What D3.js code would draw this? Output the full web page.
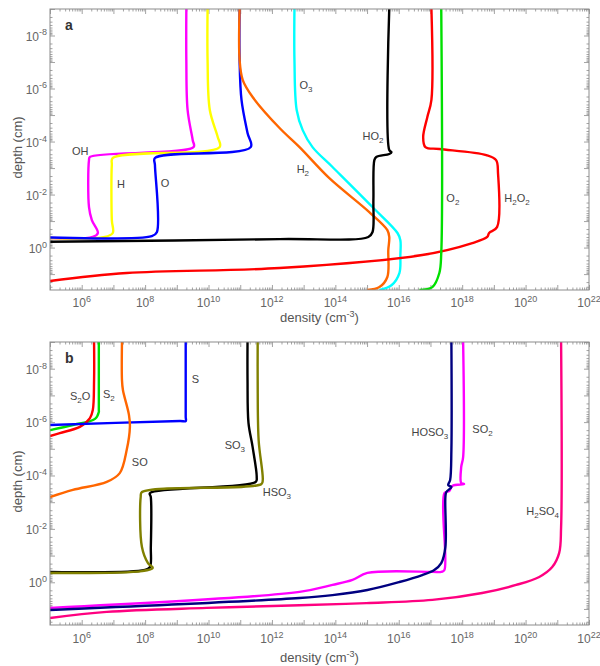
<!DOCTYPE html>
<html>
<head>
<meta charset="utf-8">
<script src="https://cdn.jsdelivr.net/npm/d3@7"></script>
<style>
  body { margin: 0; background: #fff; }
  svg { display: block; }
  text { font-family: "Liberation Sans", Arial, sans-serif; }
</style>
</head>
<body>
<svg id="chart" width="600" height="666"></svg>
<script>
// axis ranges (values, not pixels)
const DENSITY_DOMAIN = [1e5, 1e22];
const DEPTH_DOMAIN = [1e-9, 10 ** 1.6];
const X_LABEL_EXP = [6, 8, 10, 12, 14, 16, 18, 20, 22];
const Y_LABEL_EXP = [-8, -6, -4, -2, 0];

// every point is [log10 density (cm^-3), log10 depth (cm)]
// --- panel a ---
const OH = [[9.30,-9],[9.30,-7.08],[9.34,-5.19],[9.50,-4.06],[9.53,-3.79],[6.26,-3.42],[6.23,-3.30],[6.23,-1.53],[6.32,-1.04],[6.51,-0.55],[6.35,-0.40],[5,-0.36]];
const H = [[9.97,-9],[9.97,-7.08],[10.04,-5.19],[10.29,-4.17],[10.35,-3.79],[6.98,-3.38],[6.95,-3.11],[6.95,-1.04],[6.98,-0.55],[6.73,-0.40],[5,-0.36]];
const O = [[10.98,-9],[10.98,-7.08],[11.04,-5.57],[11.23,-4.32],[11.33,-3.79],[8.31,-3.38],[8.31,-3.11],[8.37,-0.58],[8.21,-0.43],[5,-0.38]];
const H2 = [[10.98,-9],[10.98,-7.08],[11.08,-6.32],[11.39,-5.68],[12.24,-4.51],[12.87,-3.79],[13.81,-2.62],[15.07,-1.34],[15.64,-0.66],[15.70,-0.40],[15.67,0.09],[15.64,1.11],[15.39,1.49],[15.01,1.60]];
const O3 = [[12.71,-9],[12.71,-7.08],[12.78,-5.19],[12.97,-4.43],[13.28,-3.79],[13.91,-3.04],[15.17,-1.53],[15.96,-0.55],[16.05,-0.28],[16.05,0.28],[16.02,0.96],[15.77,1.42],[15.39,1.60]];
const HO2 = [[15.70,-9],[15.70,-3.68],[15.77,-3.60],[15.70,-3.53],[15.29,-3.42],[15.23,-3.30],[15.20,-1.79],[15.17,-0.58],[15.04,-0.40],[12.24,-0.32],[5,-0.22]];
const O2 = [[17.34,-9],[17.34,0.21],[17.28,0.96],[17.06,1.49],[16.65,1.60]];
const H2O2 = [[17.03,-9],[17.03,-5.57],[16.90,-4.92],[16.77,-4.17],[16.84,-3.79],[17.28,-3.72],[18.76,-3.49],[19.07,-3.30],[19.13,-2.81],[19.10,-0.77],[18.85,-0.55],[18.79,-0.40],[18.32,-0.17],[16.74,0.28],[12.24,0.77],[7.42,0.96],[5,1.26]];

// --- panel b ---
const S2O = [[6.39,-9],[6.39,-7.58],[6.35,-6.45],[6.26,-6.15],[5.94,-5.82],[5.31,-5.59],[5,-5.48]];
const S2 = [[6.54,-9],[6.54,-6.45],[6.54,-6.38],[6.42,-6.12],[5.72,-5.89],[5,-5.70]];
const S = [[9.28,-9],[9.28,-6.2],[9.28,-6.04],[9.1,-6.04],[5,-5.89]];
const SO = [[7.27,-9],[7.27,-7.58],[7.30,-7.20],[7.49,-6.27],[7.52,-5.82],[7.42,-4.96],[7.20,-4.09],[6.79,-3.76],[5.72,-3.46],[5,-3.19]];
const SO3 = [[11.23,-9],[11.23,-7.58],[11.26,-5.97],[11.39,-5.07],[11.52,-3.94],[11.49,-3.76],[8.15,-3.34],[8.18,-3.19],[8.18,-1.32],[8.15,-0.57],[7.99,-0.46],[5,-0.39]];
const HSO3 = [[11.55,-9],[11.55,-7.58],[11.58,-5.33],[11.71,-3.83],[11.67,-3.68],[7.90,-3.38],[7.86,-3.19],[7.90,-1.32],[8.09,-0.72],[8.24,-0.54],[7.90,-0.42],[5,-0.35]];
const SO2 = [[18.03,-9],[18.03,-4.69],[17.97,-4.32],[17.97,-3.72],[18.06,-3.68],[17.69,-3.61],[17.59,-3.42],[17.44,-3.34],[17.44,-0.46],[17.34,-0.39],[17.06,-0.39],[15.01,-0.35],[14.54,-0.09],[13.91,0.10],[12.87,0.36],[5,0.96]];
const HOSO3 = [[17.66,-9],[17.66,-4.96],[17.62,-3.83],[17.56,-3.64],[17.66,-3.57],[17.50,-3.38],[17.47,-3.19],[17.47,-1.32],[17.34,-0.72],[17.12,-0.46],[16.74,-0.27],[16.02,-0.01],[15.01,0.29],[13.91,0.48],[12.87,0.59],[5,1.04]];
const H2SO4 = [[21.12,-9],[21.12,-2.07],[21.06,-1.10],[20.84,-0.57],[20.43,-0.20],[19.70,0.10],[18.63,0.40],[17.06,0.66],[14.98,0.78],[12.87,0.86],[9.94,0.96],[6.79,1.11],[5,1.34]];

// label anchors, also [log10 density, log10 depth]
const panels = [
  {
    letter: 'a', top: 9, bottom: 290, tickBase: 307, titleBase: 322,
    series: [
      { name: 'OH', data: OH, color: '#ff00ff', label: [5.69, -3.49] },
      { name: 'H', data: H, color: '#ffff00', label: [7.11, -2.25] },
      { name: 'O', data: O, color: '#0000ff', label: [8.49, -2.28] },
      { name: 'H_2', data: H2, color: '#ff6600', label: [12.78, -2.81] },
      { name: 'O_3', data: O3, color: '#00ffff', label: [12.87, -5.98] },
      { name: 'H_2O_2', data: H2O2, color: '#ff0000', label: [19.33, -1.72] },
      { name: 'O_2', data: O2, color: '#00e000', label: [17.5, -1.72] },
      { name: 'HO_2', data: HO2, color: '#000000', label: [14.86, -4.06] }
    ]
  },
  {
    letter: 'b', top: 342, bottom: 625, tickBase: 643, titleBase: 662,
    series: [
      { name: 'S_2', data: S2, color: '#00e000', label: [6.67, -6.90] },
      { name: 'S_2O', data: S2O, color: '#ff0000', label: [5.63, -6.83] },
      { name: 'S', data: S, color: '#0000ff', label: [9.47, -7.46] },
      { name: 'SO', data: SO, color: '#ff6600', label: [7.58, -4.36] },
      { name: 'SO_3', data: SO3, color: '#000000', label: [10.51, -4.99] },
      { name: 'HSO_3', data: HSO3, color: '#808000', label: [11.71, -3.23] },
      { name: 'H_2SO_4', data: H2SO4, color: '#ff0080', label: [20.02, -2.52] },
      { name: 'SO_2', data: SO2, color: '#ff00ff', label: [18.32, -5.59] },
      { name: 'HOSO_3', data: HOSO3, color: '#000080', label: [16.40, -5.48] }
    ]
  }
];

const left = 50, right = 589;
const svg = d3.select('#chart');
const x = d3.scaleLog().domain(DENSITY_DOMAIN).range([left, right]);

// writes "H_2O_2", "10^{-8}" etc. as tspans with sub/superscripts
function richText(sel, str, size) {
  const small = Math.round(size * 0.72);
  sel.attr('font-size', size);
  let shift = 0, i = 0;
  const put = (txt, target, fs) => {
    if (!txt) return;
    sel.append('tspan').attr('dy', target - shift).attr('font-size', fs).text(txt);
    shift = target;
  };
  let buf = '';
  while (i < str.length) {
    const c = str[i];
    if (c === '_' || c === '^') {
      put(buf, 0, size); buf = '';
      let part;
      if (str[i + 1] === '{') {
        const end = str.indexOf('}', i);
        part = str.slice(i + 2, end); i = end + 1;
      } else { part = str[i + 1]; i += 2; }
      put(part, c === '_' ? size * 0.3 : -size * 0.42, small);
    } else { buf += c; i++; }
  }
  put(buf, 0, size);
}

const majorX = d3.range(5, 23).map(e => 10 ** e);
const minorX = [];
d3.range(5, 22).forEach(e => d3.range(2, 10).forEach(k => minorX.push(k * 10 ** e)));
const majorY = d3.range(-9, 2).map(e => 10 ** e);
const minorY = [];
d3.range(-9, 2).forEach(e => d3.range(2, 10).forEach(k => {
  const v = k * 10 ** e;
  if (v <= DEPTH_DOMAIN[1]) minorY.push(v);
}));

const axisColor = '#8c8c8c';

panels.forEach((p, pi) => {
  const y = d3.scaleLog().domain(DEPTH_DOMAIN).range([p.top, p.bottom]);
  const g = svg.append('g');

  const clipId = 'clip' + pi;
  svg.append('clipPath').attr('id', clipId)
    .append('rect').attr('x', left).attr('y', p.top)
    .attr('width', right - left).attr('height', p.bottom - p.top);

  // inward ticks on all four sides
  const axes = [
    [d3.axisBottom(x), `translate(0,${p.bottom})`, majorX, minorX],
    [d3.axisTop(x), `translate(0,${p.top})`, majorX, minorX],
    [d3.axisLeft(y), `translate(${left},0)`, majorY, minorY],
    [d3.axisRight(y), `translate(${right},0)`, majorY, minorY]
  ];
  axes.forEach(([ax, tr, major, minor]) => {
    [[minor, -2.5], [major, -5]].forEach(([vals, size]) => {
      const a = g.append('g').attr('transform', tr)
        .call(ax.tickValues(vals).tickSize(size).tickFormat(''));
      a.select('.domain').remove();
      a.selectAll('text').remove();
      a.selectAll('line').attr('stroke', axisColor).attr('stroke-width', 0.8);
    });
  });

  const lines = g.append('g').attr('clip-path', `url(#${clipId})`);
  const line = d3.line()
    .x(d => x(10 ** d[0]))
    .y(d => y(10 ** d[1]))
    .curve(d3.curveCatmullRom.alpha(0.5));

  p.series.forEach(s => {
    lines.append('path')
      .attr('d', line(s.data))
      .attr('fill', 'none')
      .attr('stroke', s.color)
      .attr('stroke-width', 2.4)
      .attr('stroke-linejoin', 'round');
  });

  g.append('rect')
    .attr('x', left).attr('y', p.top)
    .attr('width', right - left).attr('height', p.bottom - p.top)
    .attr('fill', 'none').attr('stroke', axisColor).attr('stroke-width', 1);

  // species labels
  p.series.forEach(s => {
    const t = g.append('text')
      .attr('x', x(10 ** s.label[0]))
      .attr('y', y(10 ** s.label[1]))
      .attr('fill', '#444');
    richText(t, s.name, 11);
  });

  // tick labels
  X_LABEL_EXP.forEach(e => {
    const t = g.append('text')
      .attr('x', x(10 ** e)).attr('y', p.tickBase)
      .attr('text-anchor', 'middle').attr('fill', '#666');
    richText(t, `10^{${e}}`, 12);
  });
  Y_LABEL_EXP.forEach(e => {
    const t = g.append('text')
      .attr('x', left - 3).attr('y', y(10 ** e) + 5)
      .attr('text-anchor', 'end').attr('fill', '#666');
    richText(t, `10^{${e}}`, 12);
  });

  // axis titles
  const xt = g.append('text')
    .attr('x', (left + right) / 2).attr('y', p.titleBase)
    .attr('text-anchor', 'middle').attr('fill', '#555');
  richText(xt, 'density (cm^{-3})', 13);

  g.append('text')
    .attr('transform', `translate(22,${(p.top + p.bottom) / 2 - 2}) rotate(-90)`)
    .attr('text-anchor', 'middle').attr('fill', '#555')
    .attr('font-size', 13)
    .text('depth (cm)');

  g.append('text')
    .attr('x', 65).attr('y', p.top + 21)
    .attr('font-size', 14).attr('font-weight', 'bold').attr('fill', '#333')
    .text(p.letter);
});
</script>
</body>
</html>
